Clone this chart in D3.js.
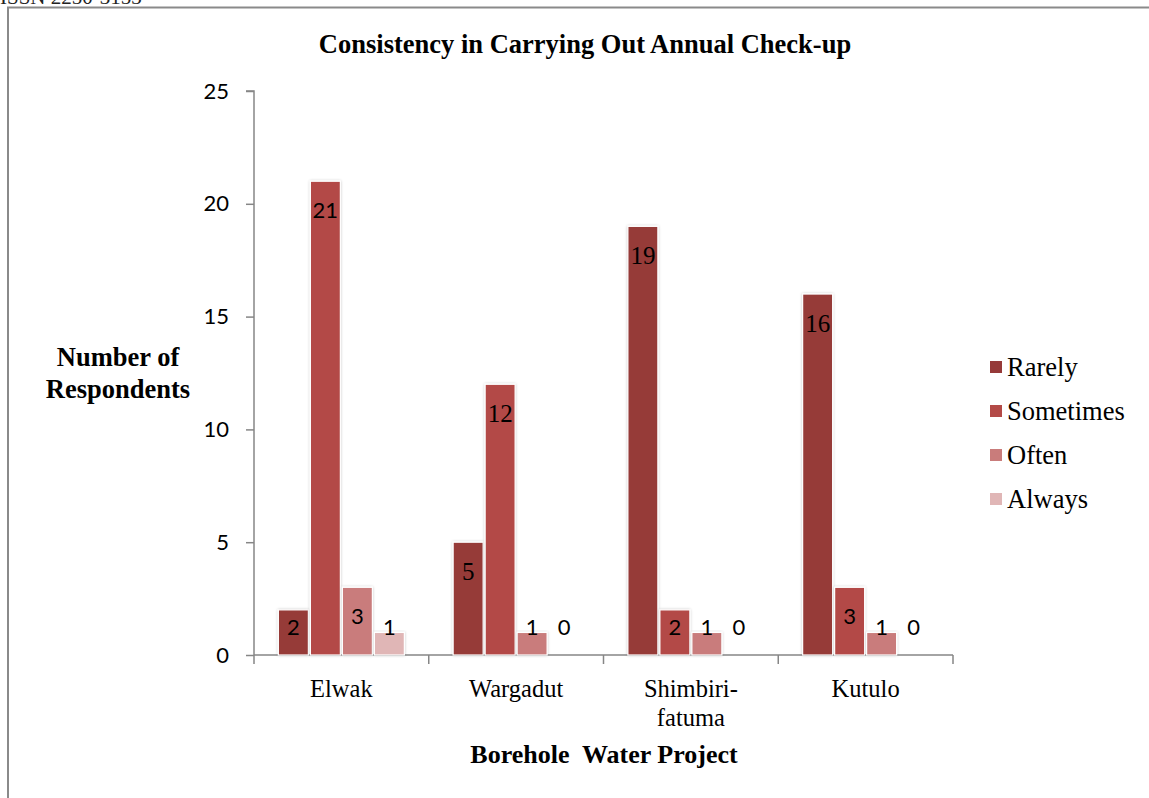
<!DOCTYPE html>
<html><head><meta charset="utf-8">
<script src="https://cdn.jsdelivr.net/npm/d3@7"></script>
<style>
html,body{margin:0;padding:0;background:#fff;overflow:hidden;}
</style></head>
<body>
<svg id="chart" width="1149" height="798"></svg>
<script>
const categories = ["Elwak", "Wargadut", "Shimbiri-fatuma", "Kutulo"];
const categoryLines = [["Elwak"], ["Wargadut"], ["Shimbiri-", "fatuma"], ["Kutulo"]];
const seriesNames = ["Rarely", "Sometimes", "Often", "Always"];
const rarely = [2, 5, 19, 16];
const sometimes = [21, 12, 2, 3];
const often = [3, 1, 1, 1];
const always = [1, 0, 0, 0];
const yTicks = [0, 5, 10, 15, 20, 25];
const colors = ["#963a39", "#b34a47", "#c97c7b", "#e0b6b6"];
const seriesValues = [rarely, sometimes, often, always];
// labels rendered in serif face in the original
const serifLabels = new Set(["Wargadut|Rarely", "Wargadut|Sometimes", "Shimbiri-fatuma|Rarely", "Kutulo|Rarely"]);

(function () {
const svg = d3.select("#chart");
const serif = "'Liberation Serif','Times New Roman',serif";
const sans = "Lato,'Open Sans','Liberation Sans',sans-serif";

const defs = svg.append("defs");
const f = defs.append("filter").attr("id", "sh").attr("x", "-30%").attr("y", "-10%").attr("width", "160%").attr("height", "120%");
f.append("feGaussianBlur").attr("in", "SourceAlpha").attr("stdDeviation", 1.6).attr("result", "b");
f.append("feComponentTransfer").attr("in", "b").attr("result", "b2")
  .append("feFuncA").attr("type", "linear").attr("slope", 0.22);
const m = f.append("feMerge");
m.append("feMergeNode").attr("in", "b2");
m.append("feMergeNode").attr("in", "SourceGraphic");

svg.append("text").attr("x", 0).attr("y", 4).attr("font-family", serif).attr("font-size", 21)
  .attr("fill", "#222").text("ISSN 2250-3153");

svg.append("rect").attr("x", 8).attr("y", 7.5).attr("width", 1200).attr("height", 900)
  .attr("fill", "none").attr("stroke", "#8a8a8a").attr("stroke-width", 2);

const pLeft = 254, pRight = 953, pTop = 91, pBottom = 655;
const x0 = d3.scaleBand().domain(categories).range([pLeft, pRight]).padding(0);
const x1 = d3.scaleBand().domain(seriesNames).range([0, x0.bandwidth()]).paddingInner(0.0625).paddingOuter(0.762);
const y = d3.scaleLinear().domain([0, 25]).range([pBottom, pTop]);

svg.append("text").attr("x", 585).attr("y", 53).attr("text-anchor", "middle")
  .attr("font-family", serif).attr("font-weight", "bold").attr("font-size", 26.5).attr("fill", "#000")
  .text("Consistency in Carrying Out Annual Check-up");

const yAxis = svg.append("g").attr("transform", `translate(${pLeft},0)`)
  .call(d3.axisLeft(y).tickValues(yTicks).tickSize(8).tickPadding(10).tickFormat(d3.format("d")));
yAxis.select(".domain").attr("stroke", "#868686").attr("stroke-width", 1.5).attr("d", `M-8,${pTop}H0V${pBottom}`);
yAxis.selectAll(".tick line").attr("stroke", "#868686").attr("stroke-width", 1.5);
yAxis.selectAll(".tick text").attr("font-family", sans).attr("font-size", 22).attr("fill", "#000").attr("x", -25);

const xAxis = svg.append("g").attr("transform", `translate(0,${pBottom})`);
xAxis.append("line").attr("x1", pLeft).attr("x2", pRight).attr("y1", 0).attr("y2", 0)
  .attr("stroke", "#868686").attr("stroke-width", 1.5);
const boundaries = categories.map(c => x0(c)).concat([pRight]);
xAxis.selectAll("line.tk").data(boundaries).join("line").attr("class", "tk")
  .attr("x1", d => d).attr("x2", d => d).attr("y1", 0).attr("y2", 9)
  .attr("stroke", "#868686").attr("stroke-width", 1.5);

categories.forEach((c, i) => {
  const t = svg.append("text").attr("x", x0(c) + x0.bandwidth() / 2).attr("y", 697)
    .attr("text-anchor", "middle").attr("font-family", serif).attr("font-size", 24.5).attr("fill", "#000");
  categoryLines[i].forEach((ln, j) => {
    t.append("tspan").attr("x", x0(c) + x0.bandwidth() / 2).attr("dy", j === 0 ? 0 : 29).text(ln);
  });
});

svg.append("text").attr("x", 604).attr("y", 763).attr("text-anchor", "middle")
  .attr("font-family", serif).attr("font-weight", "bold").attr("font-size", 26).attr("fill", "#000")
  .style("white-space", "pre").text("Borehole  Water Project");
const yt = svg.append("text").attr("text-anchor", "middle").attr("font-family", serif)
  .attr("font-weight", "bold").attr("font-size", 26.5).attr("fill", "#000");
yt.append("tspan").attr("x", 118).attr("y", 366).text("Number of");
yt.append("tspan").attr("x", 118).attr("y", 398).text("Respondents");

const rows = [];
categories.forEach((c, ci) => seriesNames.forEach((s, si) => rows.push({ c, s, si, v: seriesValues[si][ci] })));
const g = svg.append("g");
g.selectAll("rect").data(rows.filter(d => d.v > 0)).join("rect")
  .attr("x", d => x0(d.c) + x1(d.s)).attr("y", d => y(d.v))
  .attr("width", x1.bandwidth()).attr("height", d => y(0) - y(d.v))
  .attr("fill", d => colors[d.si]).attr("stroke", "#fff").attr("stroke-width", 1.2)
  .attr("filter", "url(#sh)");

g.selectAll("text").data(rows).join("text")
  .attr("x", d => x0(d.c) + x1(d.s) + x1.bandwidth() / 2)
  .attr("y", d => Math.min(y(d.v) + 29, 627))
  .attr("dy", "0.35em").attr("text-anchor", "middle")
  .attr("font-family", d => serifLabels.has(d.c + "|" + d.s) ? serif : sans)
  .attr("font-size", d => serifLabels.has(d.c + "|" + d.s) ? 25 : 22)
  .attr("fill", "#000").text(d => d.v);

const lg = svg.append("g").attr("transform", "translate(990,367)");
seriesNames.forEach((s, i) => {
  const row = lg.append("g").attr("transform", `translate(0,${i * 44})`);
  row.append("rect").attr("x", 0).attr("y", -6).attr("width", 12).attr("height", 12).attr("fill", colors[i]);
  row.append("text").attr("x", 17).attr("y", 0).attr("dy", "0.35em").attr("font-family", serif)
    .attr("font-size", 26.5).attr("fill", "#000").text(s);
});
})();
</script>
</body></html>
